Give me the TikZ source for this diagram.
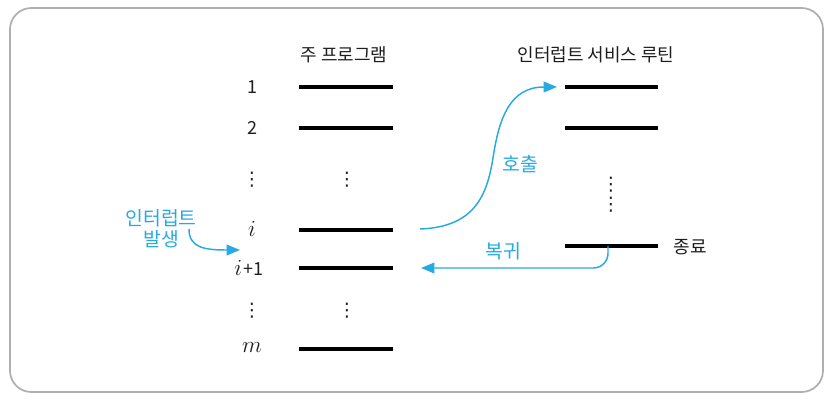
\documentclass[tikz,border=0pt]{standalone}
\usepackage{fontspec}
\setmainfont{Noto Sans CJK KR}
\newfontfamily\dotfont{DejaVu Sans}
\usetikzlibrary{arrows.meta}
\definecolor{callblue}{RGB}{38,170,226}
\definecolor{inkgray}{RGB}{30,30,30}
\definecolor{framegray}{RGB}{175,175,175}
\tikzset{every picture/.style={line width=0.75pt}}
\tikzset{
  codeline/.style={draw=black, line width=2.6pt},
  lbl/.style={inner sep=0.75pt, text=inkgray, font=\fontsize{13.5}{15}\selectfont},
  mathlbl/.style={inner sep=0.75pt, text=inkgray, font=\fontsize{16}{18}\selectfont},
  bluelbl/.style={inner sep=0.75pt, text=callblue, align=center, font=\fontsize{14.5}{16}\selectfont},
  dotlbl/.style={inner sep=0pt, text=inkgray, font=\dotfont\fontsize{14}{14}\selectfont},
  flow/.style={draw=callblue, line width=1.1pt, -{Triangle[length=10pt,width=8pt]}},
}

\begin{document}
\begin{tikzpicture}[x=0.75pt,y=0.75pt,yscale=-1,xscale=1]
\useasboundingbox (0,0) rectangle (832,400);

%Rounded frame
\draw [framegray, line width=1.3pt, rounded corners=16pt] (10,8) rectangle (823,392);

% Text Node
\node [lbl] (mainT) at (344,55) {주 프로그램};
% Text Node
\node [lbl] (isrT) at (596,55) {인터럽트 서비스 루틴};

%Main program lines
\foreach \n/\y in {1/87, 2/128, i/230, j/268, m/349}{
  \coordinate (p\n w) at (299,\y);
  \coordinate (p\n e) at (393,\y);
  \draw [codeline] (p\n w) -- (p\n e);
}
%Service routine lines
\foreach \n/\y in {1/87, 2/128, z/246}{
  \coordinate (s\n w) at (565,\y);
  \coordinate (s\n e) at (658,\y);
  \draw [codeline] (s\n w) -- (s\n e);
}

% Text Node
\node [lbl] (n1) at (252,87) {1};
% Text Node
\node [lbl] (n2) at (252,128) {2};
% Text Node
\node [mathlbl] (ni) at (252,229) {$i$};
% Text Node
\node [mathlbl] (nj) at (249,268) {$i$\kern1pt\fontsize{13.5}{15}\selectfont+1};
% Text Node
\node [mathlbl] (nm) at (252,348) {$m$};

%Vertical dots
\node [dotlbl] (d1) at (252,180) {⋮};
\node [dotlbl] (d2) at (347,180) {⋮};
\node [dotlbl] (d3) at (252,311) {⋮};
\node [dotlbl] (d4) at (347,311) {⋮};
\node [dotlbl] (d5) at (611,185) {⋮};
\node [dotlbl] (d6) at (611,205) {⋮};

% Text Node
\node [lbl, anchor=west] (endT) at (672,247) {종료};
% Text Node
\node [bluelbl] (irqT) at (161,229) {인터럽트\\발생};
% Text Node
\node [bluelbl] (callT) at (520,164) {호출};
% Text Node
\node [bluelbl] (retT) at (503,251) {복귀};

\coordinate (irqS) at (189,229);
\coordinate (irqE) at (240,250);
\coordinate (callS) at (420,229);
\coordinate (retS) at (608,246);

% Connection
\draw [flow] (irqS) .. controls (189,248) and (205,250) .. (irqE);
% Connection
\draw [flow, shorten >=6pt] (callS) .. controls (475,227) and (487,195) .. (493,158) .. controls (499,118) and (510,87) .. (s1w);
% Connection
\draw [flow, rounded corners=11pt, shorten >=21pt] (retS) |- (pje);

\end{tikzpicture}
\end{document}
